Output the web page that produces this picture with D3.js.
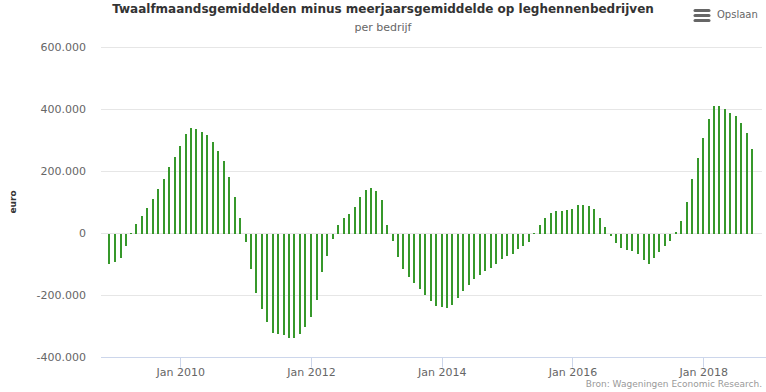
<!DOCTYPE html>
<html>
<head>
<meta charset="utf-8">
<script src="https://cdn.jsdelivr.net/npm/d3@7"></script>
<style>
    body { margin: 0; background: #fff; }
    svg { display: block; font-family: "DejaVu Sans", Verdana, sans-serif; }
</style>
</head>
<body>
<svg id="chart" width="766" height="392"></svg>
<script>
// twelve-month averages minus long-term average, euro per farm (monthly, Dec 2008 - Oct 2018)
var firstMonth = new Date(2008, 11, 1);
var values = [
    -98000, -91000, -78000, -40000, 3000, 30000, 56000, 82000, 111000, 143000, 175000, 214000,
    246000, 282000, 320000, 340000, 337000, 327000, 317000, 295000, 266000, 233000, 182000, 117000,
    50000, -27000, -114000, -191000, -243000, -285000, -320000, -325000, -327000, -337000, -337000, -324000,
    -301000, -269000, -214000, -124000, -72000, -17000, 27000, 50000, 63000, 85000, 117000, 141000,
    146000, 137000, 108000, 27000, -24000, -75000, -114000, -140000, -159000, -178000, -198000, -217000,
    -233000, -238000, -241000, -231000, -208000, -185000, -166000, -146000, -133000, -120000, -111000, -98000,
    -82000, -72000, -66000, -50000, -40000, -27000, 2000, 27000, 50000, 66000, 72000, 72000,
    75000, 78000, 91000, 91000, 88000, 78000, 50000, 22000, -8000, -30000, -46000, -53000,
    -56000, -66000, -85000, -98000, -78000, -59000, -40000, -24000, 4000, 40000, 101000, 175000,
    243000, 308000, 369000, 411000, 411000, 401000, 388000, 379000, 356000, 324000, 272000
];
var yTicks = [-400000, -200000, 0, 200000, 400000, 600000];
var xTicks = [new Date(2010, 0, 1), new Date(2012, 0, 1), new Date(2014, 0, 1), new Date(2016, 0, 1), new Date(2018, 0, 1)];

var titleText = "Twaalfmaandsgemiddelden minus meerjaarsgemiddelde op leghennenbedrijven";
var subtitleText = "per bedrijf";
var sourceText = "Bron: Wageningen Economic Research.";

var data = values.map(function(v, i) {
    return { date: d3.timeMonth.offset(firstMonth, i), value: v };
});

var svg = d3.select("#chart");

var x = d3.scaleTime()
    .domain([new Date(2008, 9, 15), new Date(2018, 10, 25)])
    .range([101, 762]);

var y = d3.scaleLinear()
    .domain([-400000, 600000])
    .range([357.5, 47.5]);

// dutch thousands separator, plain hyphen for negatives
var fmt = function(d) {
    return d3.format(",")(d).replace(/,/g, ".").replace("\u2212", "-");
};

// gridlines
svg.append("g").attr("class", "grid")
    .selectAll("line")
    .data(yTicks.filter(function(d) { return d !== -400000; }))
    .enter()
    .append("line")
    .attr("x1", 101)
    .attr("x2", 762)
    .attr("y1", function(d) { return y(d); })
    .attr("y2", function(d) { return y(d); })
    .attr("stroke", "#e6e6e6")
    .attr("stroke-width", 1);

// y labels
svg.append("g").attr("class", "ylabels")
    .selectAll("text")
    .data(yTicks)
    .enter()
    .append("text")
    .attr("x", 86)
    .attr("y", function(d) { return y(d) + 3.5; })
    .attr("text-anchor", "end")
    .attr("font-size", "11px")
    .attr("fill", "#666")
    .text(fmt);

svg.append("text")
    .attr("transform", "translate(15.5,202) rotate(-90)")
    .attr("text-anchor", "middle")
    .attr("font-size", "9px")
    .attr("font-weight", "bold")
    .attr("fill", "#333")
    .text("euro");

// columns
svg.append("g").attr("class", "bars")
    .selectAll("rect")
    .data(data)
    .enter()
    .append("rect")
    .attr("x", function(d) { return Math.round(x(d.date)) - 1; })
    .attr("width", 2)
    .attr("y", function(d) { return Math.min(y(d.value), y(0)); })
    .attr("height", function(d) { return Math.abs(y(d.value) - y(0)); })
    .attr("fill", "#36982b")
    .attr("shape-rendering", "crispEdges");

// x axis
var xAxis = svg.append("g").attr("class", "xaxis");
xAxis.append("line")
    .attr("x1", 101).attr("x2", 766)
    .attr("y1", 357.5).attr("y2", 357.5)
    .attr("stroke", "#ccd6eb");

xAxis.selectAll(".tick")
    .data(xTicks)
    .enter()
    .append("line")
    .attr("x1", function(d) { return Math.round(x(d)) + 0.5; })
    .attr("x2", function(d) { return Math.round(x(d)) + 0.5; })
    .attr("y1", 357.5)
    .attr("y2", 367.5)
    .attr("stroke", "#ccd6eb");

xAxis.selectAll("text")
    .data(xTicks)
    .enter()
    .append("text")
    .attr("x", function(d) { return x(d) + 0.5; })
    .attr("y", 376)
    .attr("text-anchor", "middle")
    .attr("font-size", "11px")
    .attr("fill", "#666")
    .text(d3.timeFormat("Jan %Y"));

// titles
svg.append("text")
    .attr("x", 383)
    .attr("y", 12.5)
    .attr("text-anchor", "middle")
    .attr("font-size", "12px")
    .attr("font-weight", "bold")
    .attr("fill", "#333")
    .text(titleText);

svg.append("text")
    .attr("x", 383)
    .attr("y", 31)
    .attr("text-anchor", "middle")
    .attr("font-size", "11px")
    .attr("fill", "#666")
    .text(subtitleText);

// export button
var btn = svg.append("g").attr("class", "button");
btn.selectAll("line")
    .data([10.5, 15.5, 20.5])
    .enter()
    .append("line")
    .attr("x1", 695).attr("x2", 709)
    .attr("y1", function(d) { return d; })
    .attr("y2", function(d) { return d; })
    .attr("stroke", "#666")
    .attr("stroke-width", 3)
    .attr("stroke-linecap", "round");
btn.append("text")
    .attr("x", 717)
    .attr("y", 18)
    .attr("font-size", "10px")
    .attr("fill", "#666")
    .text("Opslaan");

// credits
svg.append("text")
    .attr("x", 762)
    .attr("y", 387)
    .attr("text-anchor", "end")
    .attr("font-size", "9px")
    .attr("fill", "#999")
    .text(sourceText);
</script>
</body>
</html>
